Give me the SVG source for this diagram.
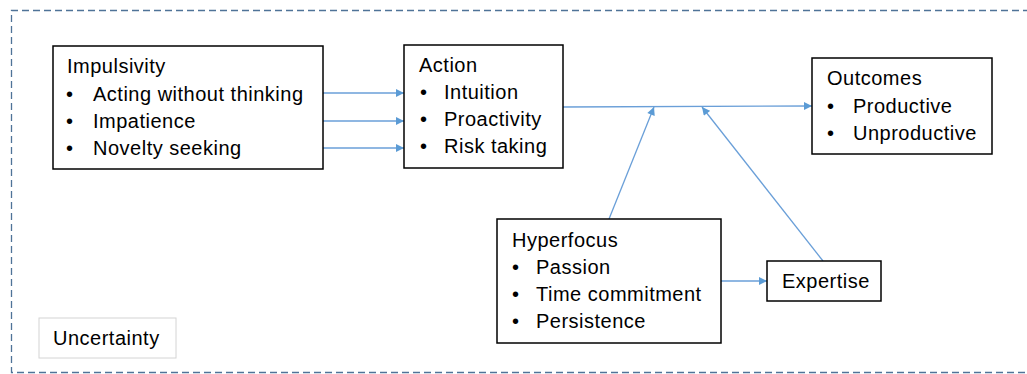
<svg xmlns="http://www.w3.org/2000/svg" width="1027" height="374" viewBox="0 0 1027 374">
<defs>
<style>
.box{fill:#fff;stroke:#000;stroke-width:1.5}
.t{font-family:"Liberation Sans",Arial,sans-serif;font-size:20px;letter-spacing:0.5px;fill:#000}
.c{stroke:#6a9fd8;stroke-width:1.3;fill:none;marker-end:url(#ah)}
</style>
<marker id="ah" viewBox="0 0 10 10" refX="10" refY="5" markerWidth="9" markerHeight="8" markerUnits="userSpaceOnUse" orient="auto">
<path d="M0,0 L10,5 L0,10 z" fill="#5b9bd5"/>
</marker>
</defs>
<rect width="1027" height="374" fill="#fff"/>
<path d="M1030,10.5 H11.5 V372.5 H1030" fill="none" stroke="#4f7398" stroke-width="1.3" stroke-dasharray="7,4"/>
<g id="connectors">
<line class="c" x1="323" y1="93" x2="404" y2="93"/>
<line class="c" x1="323" y1="121" x2="404" y2="121"/>
<line class="c" x1="323" y1="148" x2="404" y2="148"/>
<line class="c" x1="563" y1="107" x2="812" y2="106"/>
<line class="c" x1="609" y1="219" x2="654" y2="107"/>
<line class="c" x1="823" y1="261" x2="702" y2="107"/>
<line class="c" x1="721" y1="281" x2="767" y2="281"/>
</g>
<g id="impulsivity">
<rect class="box" x="53" y="46" width="270" height="123"/>
<text class="t" x="67" y="73">Impulsivity</text>
<text class="t" x="66" y="101">•</text><text class="t" x="93" y="101">Acting without thinking</text>
<text class="t" x="66" y="128">•</text><text class="t" x="93" y="128">Impatience</text>
<text class="t" x="66" y="155">•</text><text class="t" x="93" y="155">Novelty seeking</text>
</g>
<g id="action">
<rect class="box" x="404" y="45" width="159" height="123"/>
<text class="t" x="419" y="72">Action</text>
<text class="t" x="420" y="99">•</text><text class="t" x="444" y="99">Intuition</text>
<text class="t" x="420" y="126">•</text><text class="t" x="444" y="126">Proactivity</text>
<text class="t" x="420" y="153">•</text><text class="t" x="444" y="153">Risk taking</text>
</g>
<g id="outcomes">
<rect class="box" x="812" y="58" width="180" height="96"/>
<text class="t" x="827" y="85">Outcomes</text>
<text class="t" x="827" y="113">•</text><text class="t" x="853" y="113">Productive</text>
<text class="t" x="827" y="140">•</text><text class="t" x="853" y="140">Unproductive</text>
</g>
<g id="hyperfocus">
<rect class="box" x="497" y="219" width="224" height="124"/>
<text class="t" x="512" y="247">Hyperfocus</text>
<text class="t" x="512" y="274">•</text><text class="t" x="536" y="274">Passion</text>
<text class="t" x="512" y="301">•</text><text class="t" x="536" y="301">Time commitment</text>
<text class="t" x="512" y="328">•</text><text class="t" x="536" y="328">Persistence</text>
</g>
<g id="expertise">
<rect class="box" x="767" y="261" width="114" height="40"/>
<text class="t" x="782" y="288">Expertise</text>
</g>
<g id="uncertainty">
<rect x="39" y="318" width="137" height="40" fill="#fff" stroke="#d4d4d4" stroke-width="1"/>
<text class="t" x="53" y="345">Uncertainty</text>
</g>
</svg>
